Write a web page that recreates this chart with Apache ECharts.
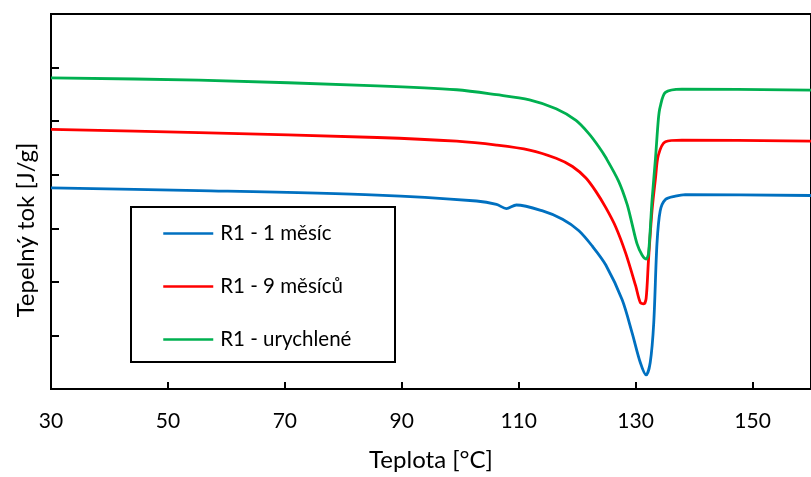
<!DOCTYPE html>
<html>
<head>
<meta charset="utf-8">
<script src="https://cdn.jsdelivr.net/npm/echarts@6/dist/echarts.min.js"></script>
<style>
  html, body { margin: 0; padding: 0; background: #fff; }
  #chart { width: 811px; height: 477px; }
</style>
</head>
<body>
<div id="chart"></div>
<script>
// DSC curves: heat flow vs temperature for three R1 samples
const seriesNames = ['R1 - 1 měsíc', 'R1 - 9 měsíců', 'R1 - urychlené'];
const xTicks = [30, 50, 70, 90, 110, 130, 150];

const tempOneMonth = [30, 55.3, 85.8, 102.8, 106.2, 107.9, 109.6, 114.1, 117.5, 120.3, 122.6, 124.9, 127.7, 129.4, 130.8, 131.8, 132.5, 133.1, 133.65, 134.2, 135.1, 136.8, 138.5, 160];
const flowOneMonth = [3.754, 3.704, 3.619, 3.509, 3.446, 3.367, 3.435, 3.324, 3.169, 2.955, 2.666, 2.315, 1.664, 1.048, 0.494, 0.262, 0.494, 1.232, 2.708, 3.324, 3.538, 3.601, 3.630, 3.612];

const tempNineMonths = [30, 55.3, 85.8, 99.4, 106.2, 111.85, 116.4, 119.2, 121.5, 123.2, 124.9, 126.6, 128.3, 130.0, 130.8, 131.4, 131.8, 132.2, 132.8, 133.4, 133.9, 135.1, 137.9, 160];
const flowNineMonths = [4.848, 4.787, 4.695, 4.626, 4.553, 4.460, 4.307, 4.154, 3.938, 3.689, 3.385, 3.025, 2.536, 1.928, 1.614, 1.590, 1.693, 2.402, 3.324, 3.938, 4.368, 4.615, 4.645, 4.626];

const tempAccelerated = [30, 55.3, 85.8, 99.4, 106.2, 111.85, 116.4, 119.8, 122.0, 123.7, 124.9, 127.1, 128.55, 129.4, 130.25, 131.1, 131.8, 132.2, 132.8, 133.4, 133.9, 134.2, 135.1, 137.9, 160];
const flowAccelerated = [5.807, 5.765, 5.659, 5.586, 5.493, 5.396, 5.230, 5.014, 4.768, 4.523, 4.320, 3.877, 3.446, 3.077, 2.708, 2.500, 2.426, 2.524, 3.509, 4.307, 5.045, 5.267, 5.538, 5.599, 5.580];

const seriesColors = ['#0070C0', '#FF0000', '#00B050'];

function zip(xs, ys) { return xs.map((x, i) => [x, ys[i]]); }

const chart = echarts.init(document.getElementById('chart'), null, { renderer: 'canvas' });
const fontFamily = 'Lato, "Noto Sans", sans-serif';

const curves = [
  zip(tempOneMonth, flowOneMonth),
  zip(tempNineMonths, flowNineMonths),
  zip(tempAccelerated, flowAccelerated)
];

chart.setOption({
  animation: false,
  backgroundColor: '#fff',
  grid: {
    left: 51, top: 14, width: 766, height: 379.5,
    show: true, borderColor: '#000', borderWidth: 2, backgroundColor: 'transparent'
  },
  legend: {
    orient: 'vertical',
    left: 162, top: 223,
    padding: 0,
    itemWidth: 50, itemHeight: 20, itemGap: 32,
    selectedMode: false,
    itemStyle: { opacity: 0 },
    lineStyle: { width: 2.5 },
    textStyle: { fontFamily: fontFamily, fontSize: 20.5, color: '#000', lineHeight: 20, padding: [0, 0, 0, 2] },
    data: seriesNames
  },
  xAxis: {
    type: 'value', min: 30, max: 160,
    name: 'Teplota [°C]', nameLocation: 'middle', nameGap: 59,
    nameTextStyle: { fontFamily: fontFamily, fontSize: 24, color: '#000' },
    axisLine: { lineStyle: { color: '#000', width: 2 } },
    axisTick: { inside: true, length: 7, lineStyle: { color: '#000', width: 2 }, customValues: xTicks },
    axisLabel: { margin: 22, fontFamily: fontFamily, fontSize: 21, color: '#000', customValues: xTicks },
    splitLine: { show: false }
  },
  yAxis: {
    type: 'value', min: 0, max: 7, interval: 1,
    axisLine: { show: true, lineStyle: { color: '#000', width: 2 } },
    axisTick: { show: true, inside: true, length: 8, lineStyle: { color: '#000', width: 2 } },
    axisLabel: { show: false },
    splitLine: { show: false }
  },
  graphic: [
    {
      type: 'text', x: 26, y: 230, rotation: Math.PI / 2,
      style: { text: 'Tepelný tok [J/g]', fontFamily: fontFamily, fontSize: 24, fill: '#000', align: 'center', verticalAlign: 'middle' }
    },
    {
      type: 'rect', shape: { x: 131, y: 207, width: 264, height: 155 },
      style: { fill: 'none', stroke: '#000', lineWidth: 2 }
    }
  ],
  series: curves.map((d, i) => ({
    name: seriesNames[i],
    type: 'line',
    data: d,
    symbol: 'none',
    smooth: 0.3,
    lineStyle: { color: seriesColors[i], width: 2.8 },
    itemStyle: { color: seriesColors[i] }
  }))
});
</script>
</body>
</html>
